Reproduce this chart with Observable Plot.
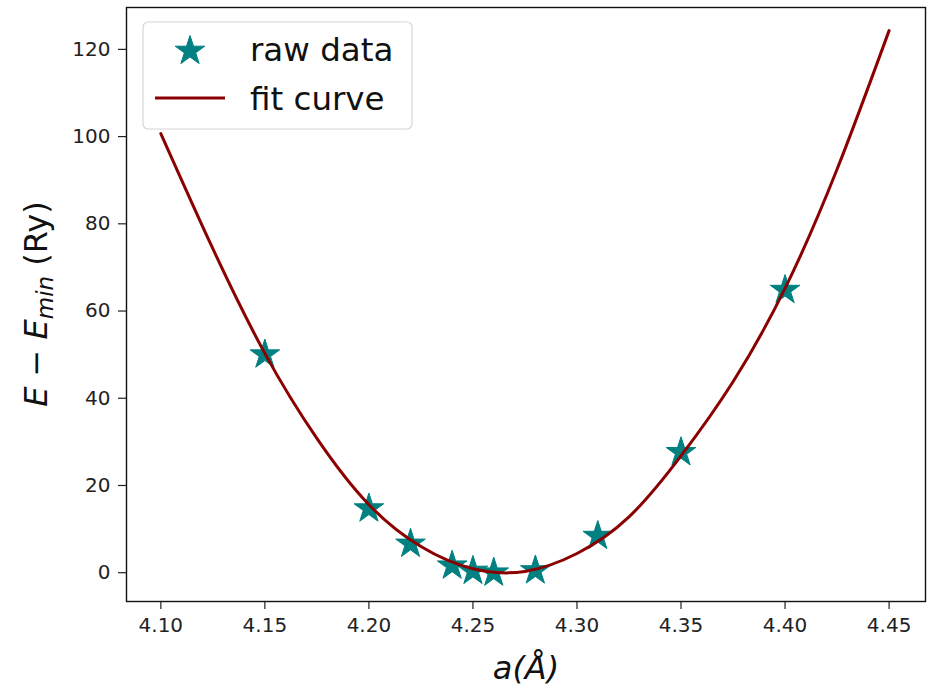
<!DOCTYPE html>
<html><head><meta charset="utf-8">
<script src="https://cdn.jsdelivr.net/npm/d3@7"></script>
<script src="https://cdn.jsdelivr.net/npm/@observablehq/plot@0.6"></script>
<style>body{margin:0;background:#fff} #chart{position:relative;width:934px;height:688px}</style>
</head><body><div id="chart"></div>
<script>
// raw data points
const latticeA = [4.15, 4.20, 4.22, 4.24, 4.25, 4.26, 4.28, 4.31, 4.35, 4.40];
const energyRaw = [50.0, 14.7, 6.6, 1.6, 0.4, 0.0, 0.5, 8.4, 27.6, 64.8];
// fit curve
const fitA = [4.100, 4.125, 4.150, 4.175, 4.200, 4.225, 4.250, 4.275, 4.300, 4.325, 4.350, 4.375, 4.400, 4.425, 4.450];
const fitE = [100.7, 74.3, 50.3, 30.8, 15.6, 6.0, 0.9, 0.3, 4.4, 12.8, 26.8, 43.8, 65.2, 92.5, 124.3];
const xTicks = [4.10, 4.15, 4.20, 4.25, 4.30, 4.35, 4.40, 4.45];
const yTicks = [0, 20, 40, 60, 80, 100, 120];

const raw = latticeA.map((a, i) => ({a, e: energyRaw[i]}));
const fit = fitA.map((a, i) => ({a, e: fitE[i]}));

const W = 934, H = 688;
const chart = Plot.plot({
  width: W, height: H,
  marginLeft: 126, marginRight: 9, marginTop: 7, marginBottom: 87,
  style: {fontFamily: "DejaVu Sans", background: "#fff", color: "#222"},
  x: {domain: [4.0835, 4.4675]},
  y: {domain: [-6.6, 129.6]},
  marks: [
    Plot.axisX(xTicks, {tickSize: 8, tickPadding: 8, fontSize: 20, tickFormat: d3.format(".2f"), label: null, stroke: "#222", strokeWidth: 1.2}),
    Plot.axisY(yTicks, {tickSize: 8, tickPadding: 8, fontSize: 20, label: null, stroke: "#222", strokeWidth: 1.2}),
    Plot.dot(raw, {x: "a", y: "e", symbol: "star", r: 9.3, fill: "#008080", stroke: "#008080", strokeWidth: 1}),
    Plot.line(fit, {x: "a", y: "e", curve: "natural", stroke: "#8b0000", strokeWidth: 3}),
    Plot.frame({stroke: "#111", strokeWidth: 1.4})
  ]
});
document.getElementById("chart").appendChild(chart);

const svg = d3.select(chart);
// x label
svg.append("text")
  .attr("x", 526).attr("y", 679)
  .attr("text-anchor", "middle")
  .attr("font-family", "DejaVu Sans").attr("font-style", "italic")
  .attr("font-size", 32).attr("fill", "#111")
  .text("a(Å)");
// y label
const yl = svg.append("text")
  .attr("transform", "translate(47,304) rotate(-90)")
  .attr("text-anchor", "middle")
  .attr("font-family", "DejaVu Sans")
  .attr("font-size", 32).attr("fill", "#111");
yl.append("tspan").attr("font-style", "italic").text("E");
yl.append("tspan").text(" − ");
yl.append("tspan").attr("font-style", "italic").text("E");
yl.append("tspan").attr("font-style", "italic").attr("font-size", 23).attr("dy", 6).text("min");
yl.append("tspan").attr("dy", -6).text(" (Ry)");

// legend
const lg = svg.append("g");
lg.append("rect").attr("x", 143).attr("y", 22).attr("width", 269).attr("height", 107)
  .attr("rx", 5).attr("fill", "white").attr("fill-opacity", 0.8)
  .attr("stroke", "#d6d6d6").attr("stroke-width", 1.2);
lg.append("path")
  .attr("d", d3.symbol(d3.symbolStar, Math.PI * 9.3 * 9.3)())
  .attr("transform", "translate(190,51)")
  .attr("fill", "#008080").attr("stroke", "#008080").attr("stroke-width", 1);
lg.append("line").attr("x1", 155).attr("x2", 225).attr("y1", 98).attr("y2", 98)
  .attr("stroke", "#8b0000").attr("stroke-width", 3);
lg.append("text").attr("x", 250).attr("y", 61).attr("text-anchor", "start").attr("font-family", "DejaVu Sans")
  .attr("font-size", 32.5).attr("fill", "#111").text("raw data");
lg.append("text").attr("x", 250).attr("y", 110).attr("text-anchor", "start").attr("font-family", "DejaVu Sans")
  .attr("font-size", 32.5).attr("fill", "#111").text("fit curve");
</script>
</body></html>
